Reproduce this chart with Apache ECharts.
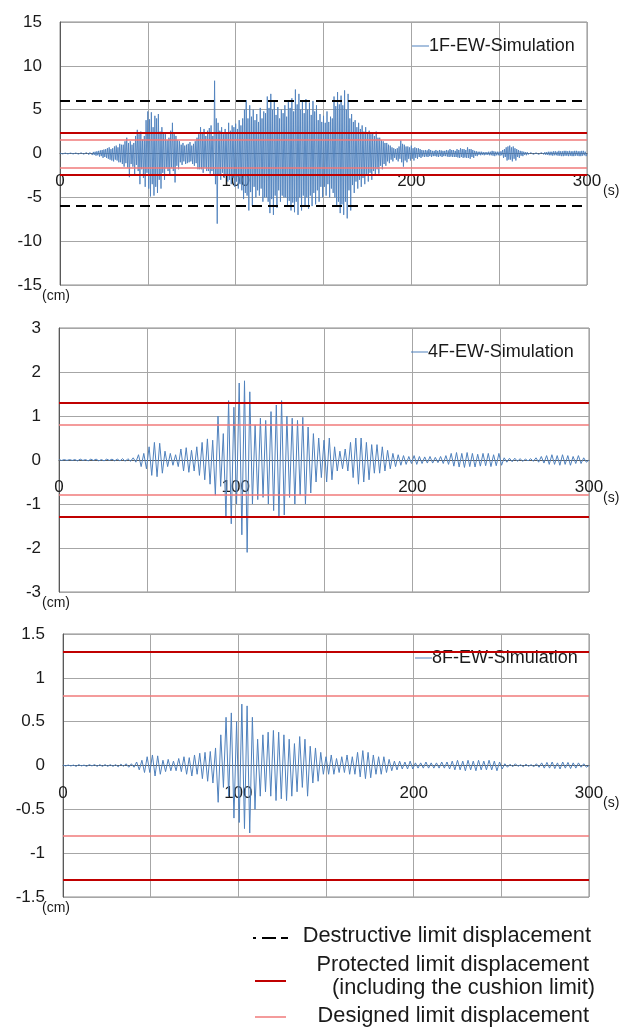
<!DOCTYPE html>
<html><head><meta charset="utf-8">
<script src="https://cdn.jsdelivr.net/npm/echarts@6/dist/echarts.min.js"></script>
<style>html,body{margin:0;padding:0;background:#fff}#c{width:629px;height:1030px}</style>
</head><body><div id="c"></div>
<script>
// ---- Data ----
// 1F: four peaks per 2 s window: main positive at t=2i, secondary negative at 2i+0.5,
//     secondary positive at 2i+1, main negative at 2i+1.5
const peaks1F_pos = [0.05,0.05,0.05,0.05,0.05,0.08,0.08,0.1,0.1,0.15,0.2,
 0.3,0.4,0.5,0.7,0.6,0.9,1.1,1.0,1.8,1.4,1.2,2.7,2.5,2.0,
 4.8,4.7,4.3,4.5,3.0,2.2,1.8,3.5,2.0,1.4,1.2,1.0,1.3,1.1,1.8,
 3.0,2.8,2.6,3.2,8.3,3.5,3.0,2.8,3.5,3.2,
 3.4,3.8,4.0,6.1,5.5,5.0,4.5,5.2,4.8,6.5,
 6.8,6.0,5.3,5.0,5.5,6.0,6.3,7.3,6.8,6.0,
 6.2,5.8,6.0,5.5,4.5,4.3,4.8,4.2,6.5,7.0,
 6.6,7.2,6.8,4.5,3.8,3.5,3.2,3.0,2.6,2.4,
 2.5,1.8,1.4,1.2,0.9,0.6,0.6,1.5,1.0,0.8,
 0.9,0.7,0.6,0.4,0.4,0.5,0.3,0.4,0.4,0.3,
 0.4,0.5,0.4,0.5,0.6,0.5,0.7,0.5,0.3,0.2,
 0.2,0.15,0.2,0.3,0.2,0.2,0.4,0.7,0.9,0.8,
 0.5,0.3,0.2,0.15,0.1,0.1,0.1,0.1,0.15,0.2,
 0.2,0.25,0.3,0.25,0.3,0.3,0.25,0.3,0.25,0.3];
const peaks1F_neg = [-0.05,-0.05,-0.05,-0.05,-0.05,-0.08,-0.08,-0.1,-0.1,-0.15,-0.2,
 -0.3,-0.4,-0.6,-0.8,-0.7,-1.0,-1.2,-1.1,-2.7,-1.5,-1.3,-3.5,-2.8,-2.2,
 -4.9,-4.8,-4.5,-4.0,-3.0,-2.0,-1.6,-3.3,-1.8,-1.3,-1.2,-1.0,-1.2,-1.1,-1.8,
 -2.2,-2.0,-2.3,-2.5,-8.0,-3.0,-2.8,-3.2,-3.5,-3.8,
 -4.0,-4.2,-4.5,-6.5,-6.0,-5.0,-4.8,-5.5,-5.0,-6.8,
 -7.0,-6.2,-5.5,-5.0,-6.0,-6.5,-6.7,-7.0,-6.5,-6.0,
 -6.3,-6.0,-5.8,-5.5,-5.0,-4.8,-5.0,-4.5,-6.0,-6.8,
 -7.0,-7.4,-6.5,-4.5,-4.0,-3.8,-3.5,-3.2,-3.0,-2.5,
 -2.3,-1.8,-1.4,-1.1,-0.9,-0.7,-0.6,-1.5,-1.0,-0.8,
 -0.8,-0.6,-0.5,-0.4,-0.4,-0.4,-0.3,-0.4,-0.4,-0.3,
 -0.4,-0.4,-0.4,-0.5,-0.5,-0.5,-0.6,-0.5,-0.3,-0.2,
 -0.2,-0.15,-0.2,-0.3,-0.2,-0.2,-0.4,-0.7,-0.9,-0.8,
 -0.5,-0.3,-0.2,-0.15,-0.1,-0.1,-0.1,-0.1,-0.15,-0.2,
 -0.2,-0.25,-0.3,-0.25,-0.3,-0.3,-0.25,-0.3,-0.25,-0.3];
const peaks1F_pos2 = [0.05,0.05,0.05,0.05,0.06,0.07,0.09,0.1,0.12,0.18,0.25,
 0.35,0.45,0.6,0.5,0.8,0.7,1.0,1.4,1.2,1.0,2.0,2.2,1.6,3.8,
 3.9,3.0,4.0,2.5,2.4,1.5,2.6,2.2,1.5,1.0,0.9,1.1,0.9,1.4,2.2,
 2.4,2.0,2.9,2.0,4.0,2.6,2.2,2.4,2.6,3.0,
 2.8,3.2,5.0,4.0,4.2,3.8,3.6,4.0,4.6,5.2,
 5.0,4.4,4.0,4.6,4.2,5.2,4.8,5.6,5.0,4.6,
 5.0,4.4,4.8,3.8,3.6,3.5,3.6,4.0,5.4,5.6,
 5.5,5.0,4.0,3.6,3.0,2.8,2.5,2.4,2.2,2.0,
 1.8,1.5,1.2,1.0,0.7,0.5,0.8,1.1,0.8,0.7,
 0.6,0.6,0.5,0.35,0.35,0.4,0.3,0.3,0.35,0.3,
 0.35,0.4,0.3,0.4,0.5,0.4,0.5,0.4,0.25,0.2,
 0.15,0.15,0.2,0.25,0.2,0.25,0.5,0.8,0.7,0.6,
 0.4,0.25,0.15,0.1,0.1,0.08,0.1,0.12,0.15,0.2,
 0.25,0.2,0.25,0.3,0.25,0.25,0.3,0.25,0.3,0.2];
const peaks1F_neg2 = [-0.05,-0.05,-0.05,-0.06,-0.05,-0.07,-0.09,-0.1,-0.12,-0.18,-0.25,
 -0.35,-0.5,-0.5,-0.7,-0.9,-0.8,-1.0,-1.5,-1.6,-1.2,-2.4,-2.0,-1.8,-3.8,
 -4.0,-3.5,-3.8,-3.0,-2.2,-1.6,-2.4,-2.0,-1.4,-1.0,-0.9,-1.1,-0.9,-1.4,-1.8,
 -1.8,-1.6,-2.0,-2.0,-3.5,-2.4,-2.2,-2.5,-3.0,-2.8,
 -3.2,-3.5,-5.2,-4.8,-4.4,-3.8,-4.2,-4.0,-5.0,-5.5,
 -5.2,-4.8,-4.2,-4.8,-5.0,-5.4,-5.6,-5.5,-5.0,-4.8,
 -5.0,-4.8,-4.5,-4.2,-3.8,-3.8,-3.5,-4.0,-5.0,-5.5,
 -5.8,-5.5,-4.2,-3.6,-3.2,-3.0,-2.8,-2.4,-2.2,-2.0,
 -1.8,-1.4,-1.2,-0.9,-0.7,-0.5,-0.9,-1.0,-0.8,-0.6,
 -0.6,-0.5,-0.4,-0.35,-0.35,-0.3,-0.3,-0.35,-0.3,-0.3,
 -0.35,-0.35,-0.4,-0.45,-0.4,-0.45,-0.5,-0.4,-0.25,-0.15,
 -0.15,-0.15,-0.2,-0.25,-0.2,-0.25,-0.5,-0.8,-0.7,-0.6,
 -0.4,-0.25,-0.15,-0.1,-0.1,-0.08,-0.1,-0.12,-0.15,-0.2,
 -0.25,-0.2,-0.25,-0.3,-0.25,-0.25,-0.3,-0.25,-0.3,-0.2];
const step1F = 2;

// 4F: positive peak at t=3i s, negative peak at t=3i+1.5 s
const peaks4F_pos = [0.01,0.01,0.01,0.01,0.02,0.01,0.02,0.02,0.01,0.02,0.02,0.02,0.03,0.03,
 0.05,0.12,0.15,0.3,0.4,0.38,0.2,0.15,0.12,0.25,0.28,0.22,0.3,0.4,0.48,0.45,
 1.0,0.6,1.35,1.2,1.75,1.8,1.55,0.8,0.95,0.9,1.1,1.25,1.35,1.0,0.95,0.9,0.97,0.75,0.6,0.5,
 0.45,0.5,0.3,0.2,0.25,0.4,0.5,0.5,0.4,0.35,0.35,0.3,0.22,0.15,0.12,0.1,0.08,0.1,0.08,0.07,
 0.08,0.06,0.08,0.1,0.15,0.17,0.15,0.17,0.15,0.13,0.15,0.15,0.12,0.15,0.05,0.04,0.04,0.03,0.02,0.03,
 0.05,0.08,0.1,0.12,0.1,0.12,0.1,0.08,0.1,0.05];
const peaks4F_neg = [-0.01,-0.01,-0.01,-0.02,-0.01,-0.02,-0.01,-0.02,-0.02,-0.01,-0.02,-0.02,-0.03,-0.03,
 -0.05,-0.15,-0.2,-0.35,-0.38,-0.3,-0.15,-0.12,-0.15,-0.25,-0.28,-0.25,-0.35,-0.45,-0.55,-0.8,
 -0.6,-1.3,-1.45,-1.0,-1.7,-2.1,-1.0,-0.9,-0.85,-1.0,-1.15,-1.3,-1.25,-0.85,-1.0,-0.8,-1.0,-0.75,-0.5,-0.4,
 -0.5,-0.45,-0.25,-0.2,-0.25,-0.4,-0.55,-0.5,-0.45,-0.3,-0.3,-0.25,-0.2,-0.15,-0.12,-0.1,-0.08,-0.1,-0.08,-0.07,
 -0.07,-0.06,-0.08,-0.1,-0.14,-0.16,-0.17,-0.15,-0.16,-0.14,-0.13,-0.15,-0.13,-0.12,-0.05,-0.04,-0.03,-0.03,-0.02,-0.03,
 -0.05,-0.07,-0.1,-0.1,-0.12,-0.1,-0.12,-0.08,-0.08,-0.05];
const step4F = 3;

// 8F: positive peak at t=3i s, negative peak at t=3i+1.5 s
const peaks8F_pos = [0.005,0.005,0.005,0.01,0.005,0.01,0.01,0.01,0.01,0.01,0.01,0.015,0.02,0.02,
 0.04,0.06,0.1,0.12,0.11,0.06,0.07,0.05,0.08,0.1,0.09,0.12,0.14,0.15,0.16,0.2,
 0.35,0.55,0.6,0.5,0.7,0.68,0.55,0.3,0.35,0.38,0.4,0.38,0.35,0.3,0.25,0.33,0.3,0.22,0.2,0.15,
 0.1,0.12,0.08,0.1,0.12,0.1,0.15,0.17,0.15,0.12,0.1,0.1,0.07,0.05,0.05,0.04,0.05,0.03,0.03,0.04,
 0.03,0.03,0.04,0.04,0.05,0.06,0.05,0.06,0.05,0.06,0.05,0.06,0.05,0.04,0.02,0.015,0.02,0.01,0.015,0.01,
 0.02,0.03,0.035,0.04,0.03,0.04,0.035,0.03,0.03,0.02];
const peaks8F_neg = [-0.005,-0.005,-0.01,-0.005,-0.01,-0.005,-0.01,-0.01,-0.01,-0.01,-0.015,-0.01,-0.02,-0.02,
 -0.05,-0.08,-0.08,-0.12,-0.1,-0.07,-0.06,-0.06,-0.07,-0.1,-0.12,-0.1,-0.15,-0.18,-0.2,-0.42,
 -0.25,-0.35,-0.6,-0.65,-0.72,-0.77,-0.5,-0.35,-0.3,-0.35,-0.4,-0.38,-0.4,-0.35,-0.3,-0.25,-0.35,-0.2,-0.18,-0.1,
 -0.1,-0.1,-0.08,-0.08,-0.1,-0.1,-0.13,-0.15,-0.14,-0.1,-0.1,-0.08,-0.06,-0.05,-0.04,-0.04,-0.04,-0.03,-0.03,-0.03,
 -0.03,-0.03,-0.03,-0.04,-0.05,-0.05,-0.06,-0.05,-0.06,-0.05,-0.05,-0.05,-0.06,-0.04,-0.02,-0.015,-0.01,-0.015,-0.01,-0.015,
 -0.02,-0.03,-0.03,-0.035,-0.04,-0.03,-0.035,-0.03,-0.02,-0.02];
const step8F = 3;

const seriesNames = ['1F-EW-Simulation','4F-EW-Simulation','8F-EW-Simulation'];
const yMins = [-15,-3,-1.5];
const yMaxs = [15,3,1.5];
const yIntervals = [5,1,0.5];
const xTicks = [0,100,200,300];
const destructiveLimit = [6,null,null];
const protectedLimit = [2.4,1.3,1.3];
const designedLimit = [1.6,0.8,0.8];
const legendLabels = ['Destructive limit displacement','Protected limit displacement','(including the cushion limit)','Designed limit displacement'];

function build(pos, neg, step){
  const out=[];
  for(let i=0;i<pos.length;i++){
    out.push([i*step,pos[i]]);
    out.push([i*step+step/2,neg[i]]);
  }
  out.push([300,0]);
  return out;
}
function build4(pos, neg2, pos2, neg, step){
  const out=[];
  for(let i=0;i<pos.length;i++){
    out.push([i*step,pos[i]]);
    out.push([i*step+step/4,neg2[i]]);
    out.push([i*step+step/2,pos2[i]]);
    out.push([i*step+3*step/4,neg[i]]);
  }
  out.push([300,0]);
  return out;
}
const data=[build4(peaks1F_pos,peaks1F_neg2,peaks1F_pos2,peaks1F_neg,step1F),
  build(peaks4F_pos,peaks4F_neg,step4F),build(peaks8F_pos,peaks8F_neg,step8F)];

const grids=[{left:60,top:22,width:527,height:263},{left:59,top:328,width:530,height:264},{left:63,top:634,width:526,height:263}];
const FONT='Liberation Sans';
const chart=echarts.init(document.getElementById('c'),null,{renderer:'canvas'});
const xAxes=[],yAxes=[],series=[],legends=[],gr=[];
for(let k=0;k<3;k++){
  gr.push(Object.assign({show:true,borderColor:'#8c8c8c',borderWidth:1,containLabel:false},grids[k]));
  // x axis drawn through the zero of the y axis (zero is at the vertical middle of each panel)
  const zeroOffset = -grids[k].height*(-yMins[k]/(yMaxs[k]-yMins[k]));
  xAxes.push({type:'value',gridIndex:k,min:0,max:300,interval:50,position:'bottom',offset:zeroOffset,
    axisLine:{onZero:false,lineStyle:{color:'#595959',width:1}},
    axisTick:{show:false},
    axisLabel:{fontFamily:FONT,fontSize:17,color:'#1a1a1a',margin:19,
      formatter:v=>xTicks.indexOf(v)>=0?String(v):''},
    splitLine:{show:true,lineStyle:{color:'#a6a6a6',width:1}}});
  yAxes.push({type:'value',gridIndex:k,min:yMins[k],max:yMaxs[k],interval:yIntervals[k],
    axisLine:{show:true,onZero:false,lineStyle:{color:'#595959',width:1}},
    axisTick:{show:false},
    axisLabel:{fontFamily:FONT,fontSize:17,color:'#1a1a1a',margin:18},
    splitLine:{show:true,lineStyle:{color:'#a6a6a6',width:1}}});
  const ml=[];
  if(destructiveLimit[k]!=null){
    ml.push({yAxis:destructiveLimit[k],lineStyle:{color:'#000',width:2,type:[10,6]}});
    ml.push({yAxis:-destructiveLimit[k],lineStyle:{color:'#000',width:2,type:[10,6]}});
  }
  ml.push({yAxis:designedLimit[k],lineStyle:{color:'#f07a7a',width:1.5,type:'solid'}});
  ml.push({yAxis:-designedLimit[k],lineStyle:{color:'#f07a7a',width:1.5,type:'solid'}});
  ml.push({yAxis:protectedLimit[k],lineStyle:{color:'#c00000',width:2,type:'solid'}});
  ml.push({yAxis:-protectedLimit[k],lineStyle:{color:'#c00000',width:2,type:'solid'}});
  series.push({name:seriesNames[k],type:'line',xAxisIndex:k,yAxisIndex:k,data:data[k],
    showSymbol:false,symbol:'none',animation:false,
    lineStyle:{color:'#4f81bd',width:k===0?0.9:1},itemStyle:{color:'#4f81bd'},
    markLine:{silent:true,symbol:'none',label:{show:false},animation:false,data:ml}});
  legends.push({data:[seriesNames[k]],left:grids[k].left+347,top:grids[k].top+10,
    icon:'rect',itemWidth:17,itemHeight:1,itemGap:2,
    textStyle:{fontFamily:FONT,fontSize:18,color:'#1a1a1a',padding:[0,0,0,-5]}});
}
const g=[];
const unitStyle={fontFamily:FONT,fontSize:14,fill:'#1a1a1a'};
for(let k=0;k<3;k++){
  g.push({type:'text',left:42,top:grids[k].top+grids[k].height+4,style:Object.assign({text:'(cm)'},unitStyle)});
  const zeroY=grids[k].top+grids[k].height*(yMaxs[k]/(yMaxs[k]-yMins[k]));
  g.push({type:'text',left:603,top:zeroY+31,style:Object.assign({text:'(s)'},unitStyle)});
}
const lf={fontFamily:FONT,fontSize:21.8,fill:'#1a1a1a'};
// legend symbols
g.push({type:'line',shape:{x1:253,y1:938,x2:256,y2:938},style:{stroke:'#000',lineWidth:2}});
g.push({type:'line',shape:{x1:262,y1:938,x2:276,y2:938},style:{stroke:'#000',lineWidth:2}});
g.push({type:'line',shape:{x1:281,y1:938,x2:288,y2:938},style:{stroke:'#000',lineWidth:2}});
g.push({type:'line',shape:{x1:255,y1:981,x2:286,y2:981},style:{stroke:'#c00000',lineWidth:2}});
g.push({type:'line',shape:{x1:255,y1:1017,x2:286,y2:1017},style:{stroke:'#f07a7a',lineWidth:1.5}});
g.push({type:'text',right:38,top:925,style:Object.assign({text:legendLabels[0]},lf)});
g.push({type:'text',right:40,top:954,style:Object.assign({text:legendLabels[1]},lf)});
g.push({type:'text',right:34,top:977,style:Object.assign({text:legendLabels[2]},lf)});
g.push({type:'text',right:40,top:1005,style:Object.assign({text:legendLabels[3]},lf)});

chart.setOption({animation:false,grid:gr,xAxis:xAxes,yAxis:yAxes,series:series,legend:legends,graphic:g});
</script></body></html>
